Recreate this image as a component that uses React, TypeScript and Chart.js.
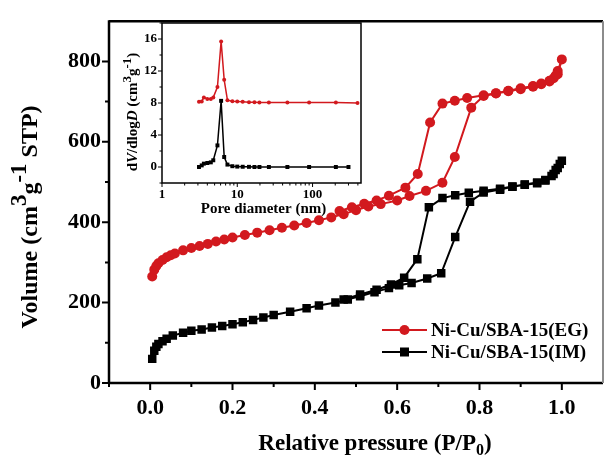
import React, { useEffect, useRef } from 'react';
import { Chart, registerables } from 'chart.js';

Chart.register(...registerables);

const FONT = '"Liberation Serif", "Times New Roman", serif';
const RED = '#d2191e';
const BLACK = '#000000';

// ---- Main isotherm data (adsorption then desorption, one continuous trace) ----
const egPressure = [
  0.005, 0.01, 0.015, 0.02, 0.03, 0.04, 0.05, 0.06, 0.08, 0.1, 0.12, 0.14, 0.16, 0.18, 0.2,
  0.23, 0.26, 0.29, 0.32, 0.35, 0.38, 0.41, 0.44, 0.47, 0.5, 0.53, 0.56, 0.6, 0.63, 0.67,
  0.71, 0.74, 0.78, 0.81, 0.84, 0.87, 0.9, 0.93, 0.95, 0.97, 0.98, 0.99, 1.0,
  0.99, 0.985, 0.97, 0.95, 0.93, 0.9, 0.87, 0.84, 0.81, 0.77, 0.74, 0.71, 0.68, 0.65, 0.62,
  0.58, 0.55, 0.52, 0.49, 0.46,
];
const egVolume = [
  265, 282, 291, 298, 306, 313, 318, 322, 330, 336, 341, 346, 352, 357, 362,
  368, 374, 380, 386, 392, 398, 405, 412, 420, 430, 439, 445, 454, 465, 478,
  498, 562, 685, 714, 720, 726, 731, 737, 743, 750, 758, 768, 805,
  776, 765, 752, 745, 739, 733, 727, 721, 716, 709, 702, 695, 648, 520, 486,
  466, 454, 446, 437, 428,
];
const imPressure = [
  0.005, 0.01, 0.015, 0.02, 0.03, 0.04, 0.055, 0.08, 0.1, 0.125, 0.15, 0.175, 0.2, 0.225,
  0.25, 0.275, 0.3, 0.34, 0.38, 0.41, 0.45, 0.48, 0.51, 0.545, 0.58, 0.605, 0.635, 0.673,
  0.707, 0.741, 0.777, 0.81, 0.85, 0.88, 0.91, 0.94, 0.96, 0.975, 0.985, 0.995, 1.0,
  0.99, 0.98, 0.96, 0.94, 0.91, 0.88, 0.85, 0.81, 0.774, 0.741, 0.71, 0.677, 0.649, 0.617,
  0.585, 0.55, 0.51, 0.47,
];
const imVolume = [
  60, 80, 90, 97, 104, 110, 118, 125, 130, 133, 138, 142, 146, 151,
  157, 163, 169, 177, 186, 193, 200, 208, 216, 226, 236, 243, 249, 260,
  273, 363, 451, 474, 481, 488, 493, 497, 504, 515, 530, 545, 553,
  535, 520, 505, 499, 494, 489, 483, 478, 473, 467, 460, 437, 308, 262,
  245, 232, 220, 208,
];

const xTickValues = [0, 0.2, 0.4, 0.6, 0.8, 1.0];
const xMinorTicks = [-0.1, 0.1, 0.3, 0.5, 0.7, 0.9];
const yTickValues = [0, 200, 400, 600, 800];
const yMinorTicks = [100, 300, 500, 700];

const seriesLabels = ['Ni-Cu/SBA-15(EG)', 'Ni-Cu/SBA-15(IM)'];

// ---- Inset pore size distribution ----
const egDiameter = [3.1, 3.37, 3.6, 4.0, 4.45, 4.8, 5.45, 6.1, 6.7, 7.4, 8.6, 10, 11.8, 14.3, 16.9, 19.7, 26.3, 46.3, 90, 204, 395];
const egPsd = [8.15, 8.2, 8.7, 8.5, 8.5, 8.7, 10.0, 15.7, 10.9, 8.35, 8.23, 8.2, 8.15, 8.1, 8.1, 8.05, 8.05, 8.05, 8.05, 8.05, 8.0];
const imDiameter = [3.1, 3.37, 3.6, 4.0, 4.45, 4.8, 5.45, 6.1, 6.7, 7.4, 8.6, 10, 11.8, 14.3, 16.9, 19.7, 26.3, 46.3, 90, 204, 300];
const imPsd = [0, 0.2, 0.42, 0.5, 0.58, 0.84, 2.7, 8.27, 1.25, 0.3, 0.1, 0.05, 0.03, 0.02, 0, 0, 0, 0, 0, 0, 0];

const insetXTicks = [1, 10, 100];
const insetXMinor = [2, 3, 4, 5, 6, 7, 8, 9, 20, 30, 40, 50, 60, 70, 80, 90, 200, 300, 400];
const insetYTicks = [0, 4, 8, 12, 16];
const insetYMinor = [-2, 2, 6, 10, 14, 18];

type Seg = { t: string; k?: 'sup' | 'sub' };

function drawRich(ctx: CanvasRenderingContext2D, segs: Seg[], cx: number, cy: number, size: number, supScale: number, rotate: boolean) {
  const fontFor = (s: Seg) => `bold ${s.k ? Math.round(size * supScale) : size}px ${FONT}`;
  let total = 0;
  const widths = segs.map((s) => {
    ctx.font = fontFor(s);
    const w = ctx.measureText(s.t).width;
    total += w;
    return w;
  });
  ctx.save();
  ctx.translate(cx, cy);
  if (rotate) ctx.rotate(-Math.PI / 2);
  ctx.textAlign = 'left';
  ctx.textBaseline = 'alphabetic';
  ctx.fillStyle = '#000';
  let x = -total / 2;
  const base = size * 0.33;
  segs.forEach((s, i) => {
    ctx.font = fontFor(s);
    let y = base;
    if (s.k === 'sup') y = base - size * 0.45;
    if (s.k === 'sub') y = base + size * 0.25;
    ctx.fillText(s.t, x, y);
    x += widths[i];
  });
  ctx.restore();
}

const mainDecor = {
  id: 'mainDecor',
  afterDraw(chart: any) {
    const { ctx, chartArea: a } = chart;
    const xs = chart.scales.x;
    const ys = chart.scales.y;
    ctx.save();
    ctx.strokeStyle = '#000';
    ctx.lineCap = 'butt';
    // frame
    ctx.lineWidth = 2.5;
    ctx.beginPath();
    ctx.moveTo(a.left, a.top);
    ctx.lineTo(a.right, a.top);
    ctx.moveTo(a.left, a.top - 1);
    ctx.lineTo(a.left, a.bottom + 1);
    ctx.moveTo(a.left - 1, a.bottom);
    ctx.lineTo(a.right, a.bottom);
    ctx.stroke();
    ctx.strokeStyle = '#8c8c8c';
    ctx.lineWidth = 2;
    ctx.beginPath();
    ctx.moveTo(a.right, a.top);
    ctx.lineTo(a.right, a.bottom);
    ctx.stroke();
    // ticks
    ctx.strokeStyle = '#000';
    ctx.lineWidth = 2;
    ctx.beginPath();
    xTickValues.forEach((v) => {
      const p = xs.getPixelForValue(v);
      ctx.moveTo(p, a.bottom);
      ctx.lineTo(p, a.bottom + 7);
    });
    xMinorTicks.forEach((v) => {
      const p = xs.getPixelForValue(v);
      ctx.moveTo(p, a.bottom);
      ctx.lineTo(p, a.bottom + 4);
    });
    yTickValues.forEach((v) => {
      const p = ys.getPixelForValue(v);
      ctx.moveTo(a.left, p);
      ctx.lineTo(a.left - 7, p);
    });
    yMinorTicks.forEach((v) => {
      const p = ys.getPixelForValue(v);
      ctx.moveTo(a.left, p);
      ctx.lineTo(a.left - 4, p);
    });
    ctx.stroke();

    // axis titles
    drawRich(ctx, [{ t: 'Volume (cm' }, { t: '3', k: 'sup' }, { t: 'g' }, { t: '-1', k: 'sup' }, { t: ' STP)' }], 29, 217, 24, 0.95, true);
    drawRich(ctx, [{ t: 'Relative pressure (P/P' }, { t: '0', k: 'sub' }, { t: ')' }], 375, 442, 23, 0.7, false);

    // legend
    chart.data.datasets.forEach((ds: any, i: number) => {
      const ly = 330 + i * 22;
      ctx.strokeStyle = ds.borderColor;
      ctx.fillStyle = ds.borderColor;
      ctx.lineWidth = 2;
      ctx.beginPath();
      ctx.moveTo(382, ly);
      ctx.lineTo(427, ly);
      ctx.stroke();
      if (ds.pointStyle === 'rect') {
        ctx.fillRect(404.5 - 4.5, ly - 4.5, 9, 9);
      } else {
        ctx.beginPath();
        ctx.arc(404.5, ly, 5, 0, Math.PI * 2);
        ctx.fill();
      }
      ctx.fillStyle = '#000';
      ctx.font = `bold 19px ${FONT}`;
      ctx.textAlign = 'left';
      ctx.textBaseline = 'middle';
      ctx.fillText(seriesLabels[i], 431, ly + 1);
    });
    ctx.restore();
  },
};

const insetDecor = {
  id: 'insetDecor',
  afterDraw(chart: any) {
    const { ctx, chartArea: a } = chart;
    const xs = chart.scales.x;
    const ys = chart.scales.y;
    ctx.save();
    ctx.strokeStyle = '#000';
    ctx.lineWidth = 1.5;
    ctx.strokeRect(a.left, a.top, a.right - a.left, a.bottom - a.top);
    ctx.lineWidth = 1;
    ctx.beginPath();
    insetXTicks.forEach((v) => {
      const p = xs.getPixelForValue(v);
      ctx.moveTo(p, a.bottom);
      ctx.lineTo(p, a.bottom + 4);
    });
    insetXMinor.forEach((v) => {
      const p = xs.getPixelForValue(v);
      ctx.moveTo(p, a.bottom);
      ctx.lineTo(p, a.bottom + 2.5);
    });
    insetYTicks.forEach((v) => {
      const p = ys.getPixelForValue(v);
      ctx.moveTo(a.left, p);
      ctx.lineTo(a.left - 4, p);
    });
    insetYMinor.forEach((v) => {
      const p = ys.getPixelForValue(v);
      ctx.moveTo(a.left, p);
      ctx.lineTo(a.left - 2.5, p);
    });
    ctx.stroke();
    drawRich(ctx, [{ t: 'Pore diameter (nm)' }], (a.left + a.right) / 2 + 2, 208, 15, 1, false);
    // y title with italic V and D
    const size = 15;
    const segs = [
      { t: 'd', f: `bold ${size}px ${FONT}`, dy: 0 },
      { t: 'V', f: `italic bold ${size}px ${FONT}`, dy: 0 },
      { t: '/dlog', f: `bold ${size}px ${FONT}`, dy: 0 },
      { t: 'D', f: `italic bold ${size}px ${FONT}`, dy: 0 },
      { t: ' (cm', f: `bold ${size}px ${FONT}`, dy: 0 },
      { t: '3', f: `bold ${size - 2}px ${FONT}`, dy: -6 },
      { t: 'g', f: `bold ${size}px ${FONT}`, dy: 0 },
      { t: '-1', f: `bold ${size - 2}px ${FONT}`, dy: -6 },
      { t: ')', f: `bold ${size}px ${FONT}`, dy: 0 },
    ];
    let total = 0;
    const w = segs.map((s) => {
      ctx.font = s.f;
      const m = ctx.measureText(s.t).width;
      total += m;
      return m;
    });
    ctx.translate(133, 112);
    ctx.rotate(-Math.PI / 2);
    ctx.fillStyle = '#000';
    ctx.textBaseline = 'alphabetic';
    ctx.textAlign = 'left';
    let x = -total / 2;
    segs.forEach((s, i) => {
      ctx.font = s.f;
      ctx.fillText(s.t, x, 4 + s.dy);
      x += w[i];
    });
    ctx.restore();
  },
};

export default function App() {
  const mainRef = useRef<HTMLCanvasElement>(null);
  const insetRef = useRef<HTMLCanvasElement>(null);

  useEffect(() => {
    const tickFont = { family: FONT, size: 22, weight: 'bold' as const };
    const main = new Chart(mainRef.current!, {
      type: 'scatter',
      data: {
        datasets: [
          {
            label: seriesLabels[0],
            data: egPressure.map((p, i) => ({ x: p, y: egVolume[i] })),
            showLine: true,
            borderColor: RED,
            backgroundColor: RED,
            borderWidth: 2,
            pointStyle: 'circle',
            pointRadius: 5,
            pointBorderWidth: 0,
          },
          {
            label: seriesLabels[1],
            data: imPressure.map((p, i) => ({ x: p, y: imVolume[i] })),
            showLine: true,
            borderColor: BLACK,
            backgroundColor: BLACK,
            borderWidth: 2,
            pointStyle: 'rect',
            pointRadius: 6,
            pointBorderWidth: 0,
          },
        ],
      },
      options: {
        responsive: false,
        animation: false,
        layout: { padding: { top: 15, right: 2, left: 0, bottom: 0 } },
        plugins: { legend: { display: false }, tooltip: { enabled: false } },
        scales: {
          x: {
            type: 'linear',
            min: -0.1,
            max: 1.1,
            grid: { display: false, drawTicks: false },
            border: { display: false },
            afterBuildTicks: (s: any) => {
              s.ticks = xTickValues.map((v) => ({ value: v }));
            },
            afterFit: (s: any) => {
              s.height = 73;
            },
            ticks: {
              autoSkip: false,
              maxRotation: 0,
              padding: 12,
              color: '#000',
              font: tickFont,
              callback: (v: any) => Number(v).toFixed(1),
            },
          },
          y: {
            type: 'linear',
            min: 0,
            max: 900,
            grid: { display: false, drawTicks: false },
            border: { display: false },
            afterBuildTicks: (s: any) => {
              s.ticks = yTickValues.map((v) => ({ value: v }));
            },
            afterFit: (s: any) => {
              s.width = 109;
            },
            ticks: {
              autoSkip: false,
              padding: 8,
              color: '#000',
              font: tickFont,
              callback: (v: any) => String(v),
            },
          },
        },
      },
      plugins: [mainDecor],
    });

    const insetFont = { family: FONT, size: 13, weight: 'bold' as const };
    const inset = new Chart(insetRef.current!, {
      type: 'scatter',
      data: {
        datasets: [
          {
            data: egDiameter.map((d, i) => ({ x: d, y: egPsd[i] })),
            showLine: true,
            borderColor: RED,
            backgroundColor: RED,
            borderWidth: 1.5,
            pointStyle: 'circle',
            pointRadius: 2,
            pointBorderWidth: 0,
          },
          {
            data: imDiameter.map((d, i) => ({ x: d, y: imPsd[i] })),
            showLine: true,
            borderColor: BLACK,
            backgroundColor: BLACK,
            borderWidth: 1.5,
            pointStyle: 'rect',
            pointRadius: 2.8,
            pointBorderWidth: 0,
          },
        ],
      },
      options: {
        responsive: false,
        animation: false,
        layout: { padding: { top: 23, right: 248, left: 0, bottom: 0 } },
        plugins: { legend: { display: false }, tooltip: { enabled: false } },
        scales: {
          x: {
            type: 'logarithmic',
            min: 1,
            max: 440,
            grid: { display: false, drawTicks: false },
            border: { display: false },
            afterBuildTicks: (s: any) => {
              s.ticks = insetXTicks.map((v) => ({ value: v }));
            },
            afterFit: (s: any) => {
              s.height = 273;
            },
            ticks: {
              autoSkip: false,
              maxRotation: 0,
              padding: 4,
              color: '#000',
              font: insetFont,
              callback: (v: any) => String(v),
            },
          },
          y: {
            type: 'linear',
            min: -2,
            max: 18,
            grid: { display: false, drawTicks: false },
            border: { display: false },
            afterBuildTicks: (s: any) => {
              s.ticks = insetYTicks.map((v) => ({ value: v }));
            },
            afterFit: (s: any) => {
              s.width = 162;
            },
            ticks: {
              autoSkip: false,
              padding: 5,
              color: '#000',
              font: insetFont,
              callback: (v: any) => String(v),
            },
          },
        },
      },
      plugins: [insetDecor],
    });

    return () => {
      main.destroy();
      inset.destroy();
    };
  }, []);

  return (
    <div style={{ position: 'fixed', left: 0, top: 0, width: 609, height: 456, background: '#fff', overflow: 'hidden' }}>
      <canvas ref={mainRef} width={609} height={456} style={{ position: 'absolute', left: 0, top: 0 }} />
      <canvas ref={insetRef} width={609} height={456} style={{ position: 'absolute', left: 0, top: 0 }} />
    </div>
  );
}
